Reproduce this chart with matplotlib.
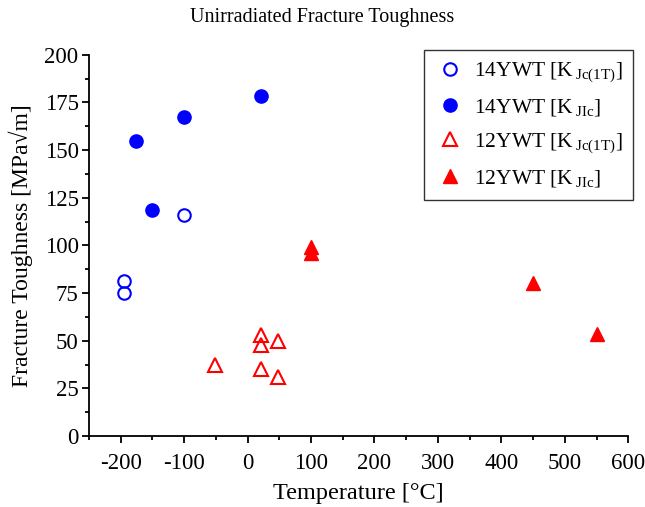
import numpy as np
import matplotlib
matplotlib.use("Agg")
import matplotlib.pyplot as plt
from matplotlib.ticker import MultipleLocator


# ==========================================
# Data
# ==========================================

t_14ywt_kjc = [-195, -195, -101]
k_14ywt_kjc = [81.5, 75.0, 116.0]

t_14ywt_kjic = [-176, -151, -101, 21]
k_14ywt_kjic = [154.5, 118.5, 167.5, 178.5]

t_12ywt_kjc = [21, 21, 48, -52, 21, 48]
k_12ywt_kjc = [53.0, 48.0, 50.0, 37.0, 35.0, 31.0]

t_12ywt_kjic = [100, 100, 450, 550]
k_12ywt_kjic = [99.0, 96.0, 80.5, 53.5]


# ==========================================
# Style
# ==========================================

plt.rcParams["font.family"] = ["Liberation Serif", "DejaVu Serif"]
plt.rcParams["mathtext.fontset"] = "custom"
plt.rcParams["mathtext.rm"] = "Liberation Serif"
plt.rcParams["mathtext.it"] = "Liberation Serif:italic"
plt.rcParams["axes.unicode_minus"] = False

BLUE = "#0000ff"
RED = "#ff0000"


# ==========================================
# Plot
# ==========================================

fig = plt.figure(figsize=(6.45, 5.07), dpi=100)
ax = fig.add_axes([0.138, 0.140, 0.836, 0.752])

ax.plot(t_14ywt_kjc, k_14ywt_kjc, "o", ms=9, mfc="none", mec=BLUE, mew=1.5,
        linestyle="none", label=r"14YWT [K$\,_{\rm Jc(1T)}$]")
ax.plot(t_14ywt_kjic, k_14ywt_kjic, "o", ms=9.5, color=BLUE,
        linestyle="none", label=r"14YWT [K$\,_{\rm JIc}$]")
ax.plot(t_12ywt_kjc, k_12ywt_kjc, "^", ms=10, mfc="none", mec=RED, mew=1.5,
        linestyle="none", label=r"12YWT [K$\,_{\rm Jc(1T)}$]")
ax.plot(t_12ywt_kjic, k_12ywt_kjic, "^", ms=10, color=RED,
        linestyle="none", label=r"12YWT [K$\,_{\rm JIc}$]")

ax.set_xlim(-250, 600)
ax.set_ylim(0, 200)
ax.xaxis.set_major_locator(MultipleLocator(100))
ax.xaxis.set_minor_locator(MultipleLocator(50))
ax.yaxis.set_major_locator(MultipleLocator(25))
ax.yaxis.set_minor_locator(MultipleLocator(12.5))

ax.spines["top"].set_visible(False)
ax.spines["right"].set_visible(False)
ax.spines["left"].set_linewidth(1.3)
ax.spines["bottom"].set_linewidth(1.3)

ax.tick_params(which="major", direction="out", length=5, width=1.3,
               labelsize=16.5)
ax.tick_params(which="minor", direction="out", length=3, width=1.3)
ax.tick_params(axis="x", which="major", pad=7)
ax.tick_params(axis="y", which="major", pad=2.5)

ax.set_xlabel("Temperature [\u00b0C]", fontsize=17.5, labelpad=7)
ax.set_ylabel("Fracture Toughness [MPa\u221am]", fontsize=17, labelpad=8)
fig.suptitle("Unirradiated Fracture Toughness", fontsize=14.5, x=0.5, y=0.985)

leg = ax.legend(loc="upper right", fontsize=15.5, frameon=True, fancybox=False,
                edgecolor="black", borderpad=0.5, handletextpad=0.4,
                labelspacing=0.6, handlelength=1.4, borderaxespad=0.0,
                bbox_to_anchor=(1.009, 1.013))
leg.get_frame().set_linewidth(1.0)

fig.savefig("out.png", dpi=100)
